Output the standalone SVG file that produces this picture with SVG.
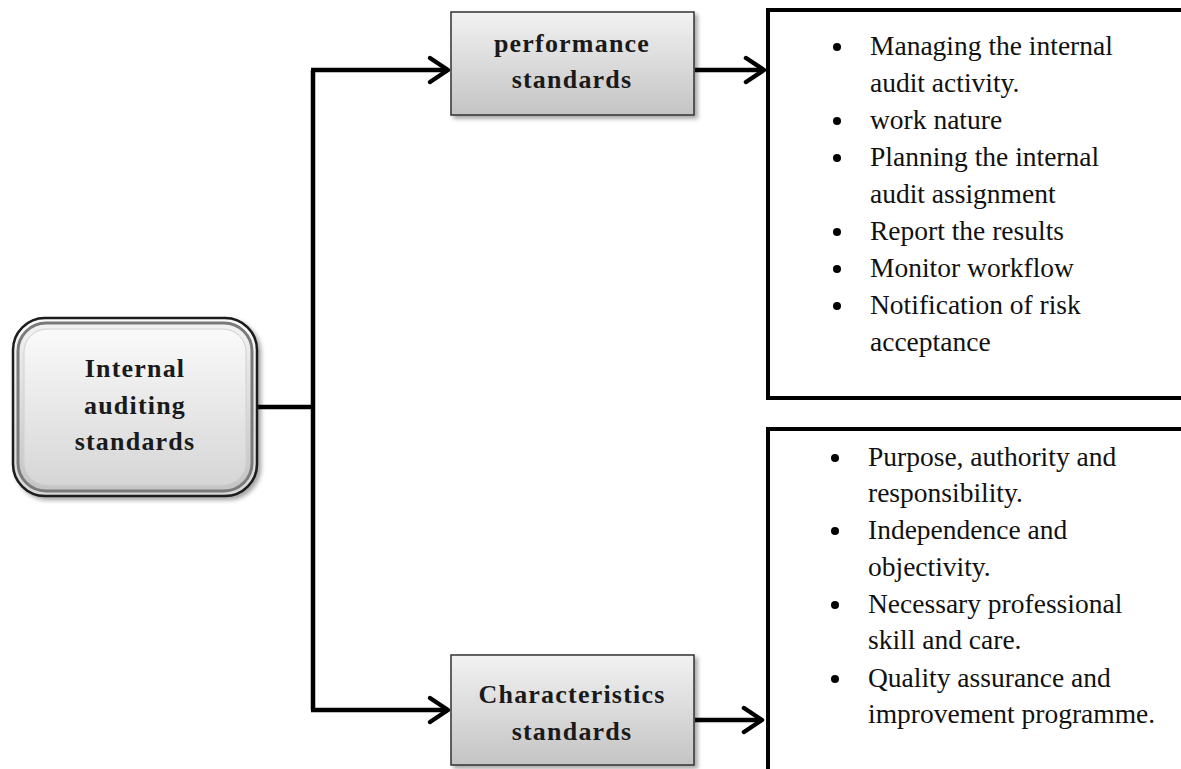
<svg xmlns="http://www.w3.org/2000/svg" width="1181" height="769" viewBox="0 0 1181 769">
<defs>
<linearGradient id="g1" x1="0" y1="0" x2="0" y2="1">
<stop offset="0" stop-color="#f2f2f2"/>
<stop offset="1" stop-color="#c4c4c4"/>
</linearGradient>
<linearGradient id="g2" x1="0" y1="0" x2="0" y2="1">
<stop offset="0" stop-color="#fafafa"/>
<stop offset="1" stop-color="#d6d6d6"/>
</linearGradient>
<filter id="sh" x="-10%" y="-10%" width="130%" height="130%">
<feDropShadow dx="3" dy="3" stdDeviation="2" flood-color="#000" flood-opacity="0.35"/>
</filter>
<style>
.hd{font-family:"Liberation Serif","Times New Roman",serif;font-weight:bold;font-size:26px;letter-spacing:1.2px;fill:#1a1a1a;text-anchor:middle}
.tx{font-family:"Liberation Serif","Times New Roman",serif;font-size:27.5px;fill:#111}
.ln{fill:none;stroke:#000;stroke-width:4.5;stroke-linejoin:miter}
.ah{fill:none;stroke:#000;stroke-width:4.5;stroke-linecap:round;stroke-linejoin:round}
.lst{fill:#fff;stroke:#000;stroke-width:4}
</style>
</defs>
<rect width="1181" height="769" fill="#fff"/>

<g id="connectors">
<path class="ln" d="M257,407 H313"/>
<path class="ln" d="M313,70 V710"/>
<path class="ln" d="M311,70 H448"/>
<path class="ah" d="M430,58 L448,70 L430,82"/>
<path class="ln" d="M311,710 H448"/>
<path class="ah" d="M430,698 L448,710 L430,722"/>
<path class="ln" d="M695,70 H764"/>
<path class="ah" d="M746,58 L764,70 L746,82"/>
<path class="ln" d="M695,720 H762"/>
<path class="ah" d="M744,708 L762,720 L744,732"/>
</g>

<g id="root">
<rect x="13" y="318" width="244" height="178" rx="32" fill="url(#g2)" stroke="#1a1a1a" stroke-width="2.5" filter="url(#sh)"/>
<rect x="18" y="323" width="234" height="168" rx="28" fill="url(#g1)" stroke="#7a7a7a" stroke-width="3"/>
<rect x="24" y="329" width="222" height="156" rx="23" fill="url(#g2)" stroke="#d0d0d0" stroke-width="1"/>
<text class="hd" x="135" y="377">Internal</text>
<text class="hd" x="135" y="414">auditing</text>
<text class="hd" x="135" y="450">standards</text>
</g>

<g id="performance">
<rect x="451" y="12" width="243" height="103" fill="url(#g1)" stroke="#333" stroke-width="1.5" filter="url(#sh)"/>
<text class="hd" x="572" y="52">performance</text>
<text class="hd" x="572" y="88">standards</text>
</g>

<g id="characteristics">
<rect x="451" y="655" width="243" height="110" fill="url(#g1)" stroke="#333" stroke-width="1.5" filter="url(#sh)"/>
<text class="hd" x="572" y="703">Characteristics</text>
<text class="hd" x="572" y="740">standards</text>
</g>

<g id="performance-list">
<rect class="lst" x="768" y="10" width="420" height="388"/>
<g fill="#000">
<circle cx="837" cy="47" r="4"/>
<circle cx="837" cy="121" r="4"/>
<circle cx="837" cy="158" r="4"/>
<circle cx="837" cy="232" r="4"/>
<circle cx="837" cy="269" r="4"/>
<circle cx="837" cy="306" r="4"/>
</g>
<text class="tx" x="870" y="55">Managing the internal</text>
<text class="tx" x="870" y="92">audit activity.</text>
<text class="tx" x="870" y="129">work nature</text>
<text class="tx" x="870" y="166">Planning the internal</text>
<text class="tx" x="870" y="203">audit assignment</text>
<text class="tx" x="870" y="240">Report the results</text>
<text class="tx" x="870" y="277">Monitor workflow</text>
<text class="tx" x="870" y="314">Notification of risk</text>
<text class="tx" x="870" y="351">acceptance</text>
</g>

<g id="characteristics-list">
<rect class="lst" x="768" y="429" width="420" height="360"/>
<g fill="#000">
<circle cx="835" cy="458" r="4"/>
<circle cx="835" cy="531" r="4"/>
<circle cx="835" cy="605" r="4"/>
<circle cx="835" cy="679" r="4"/>
</g>
<text class="tx" x="868" y="466">Purpose, authority and</text>
<text class="tx" x="868" y="502">responsibility.</text>
<text class="tx" x="868" y="539">Independence and</text>
<text class="tx" x="868" y="576">objectivity.</text>
<text class="tx" x="868" y="613">Necessary professional</text>
<text class="tx" x="868" y="649">skill and care.</text>
<text class="tx" x="868" y="687">Quality assurance and</text>
<text class="tx" x="868" y="723">improvement programme.</text>
</g>
</svg>
